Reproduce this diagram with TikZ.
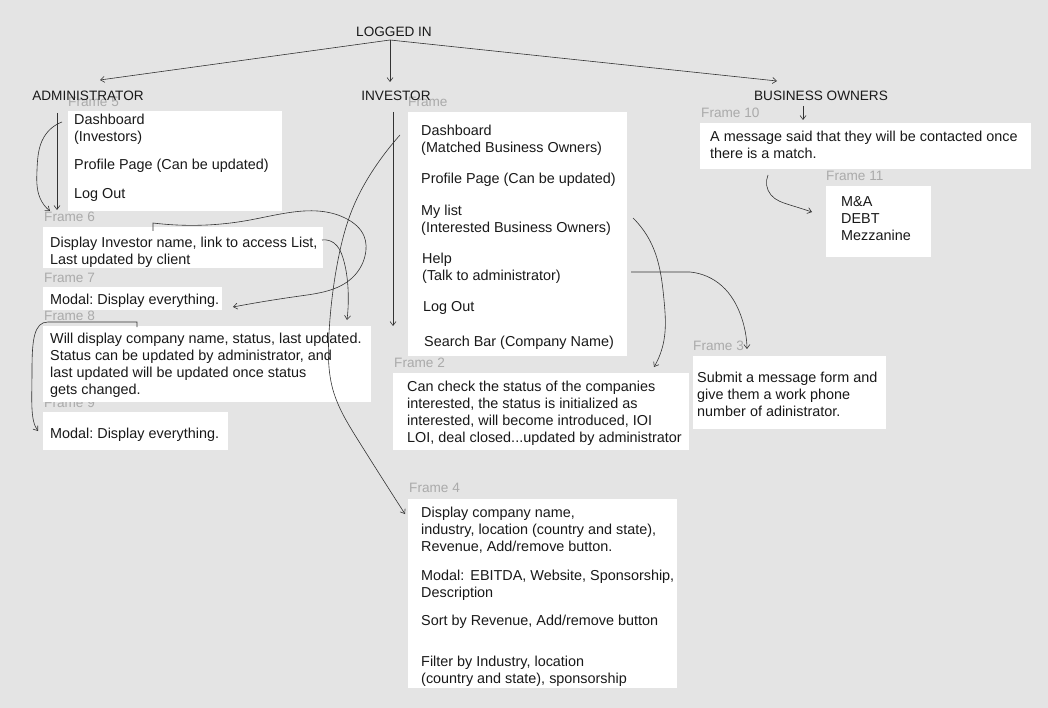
\documentclass[tikz,border=0pt]{standalone}
\usepackage{fontspec}
\setmainfont{Liberation Sans}
\usepackage{tikz}
\usetikzlibrary{calc,arrows.meta,positioning,hobby}
\definecolor{pageGray}{HTML}{E4E4E4}
\definecolor{frameGray}{HTML}{AAAAAA}
\definecolor{inkGray}{HTML}{333333}
\newcommand{\colorTikzBg}{pageGray}
\newcommand{\colorTikzLbl}{frameGray}
\newcommand{\colorTikzInk}{inkGray}
\frenchspacing

\begin{document}
\begin{tikzpicture}[x=1pt, y=-1pt,
    framebox/.style={fill=white, draw=none, anchor=north west, inner sep=0pt},
    bodytxt/.style={anchor=north west, inner sep=0pt, align=left, text=black!90,
      font=\fontsize{14.4}{17}\selectfont, execute at begin node=\strut},
    framelbl/.style={anchor=west, inner sep=0pt, text=\colorTikzLbl, font=\fontsize{13.6}{15}\selectfont},
    headtxt/.style={inner sep=0pt, text=black!90, font=\fontsize{13.6}{15}\selectfont},
    link/.style={draw=\colorTikzInk, line width=0.6pt, -{Straight Barb[length=4pt, width=6pt]}}]

        \fill[\colorTikzBg] (0, 0) rectangle (1048, 708);
        \useasboundingbox (0, 0) rectangle (1048, 708);

        \node[framelbl] (f5lbl) at (68, 102) {Frame 5};
        \node[framelbl] (f6lbl) at (44, 217) {Frame 6};
        \node[framelbl] (f7lbl) at (44, 278) {Frame 7};
        \node[framelbl] (f8lbl) at (44, 316) {Frame 8};
        \node[framelbl] (f9lbl) at (44, 403) {Frame 9};
        \node[framelbl] (finvlbl) at (408, 102) {Frame};
        \node[framelbl] (f2lbl) at (394, 363) {Frame 2};
        \node[framelbl] (f3lbl) at (693, 346) {Frame 3};
        \node[framelbl] (f10lbl) at (701, 113) {Frame 10};
        \node[framelbl] (f11lbl) at (826, 176) {Frame 11};
        \node[framelbl] (f4lbl) at (409, 488) {Frame 4};

        \node[headtxt] (logged) at (394, 32) {LOGGED IN};
        \node[headtxt] (adm) at (88, 96) {ADMINISTRATOR};
        \node[headtxt] (inv) at (396, 96) {INVESTOR};
        \node[headtxt] (bo) at (821, 96) {BUSINESS OWNERS};

        \node[framebox, minimum width=214, minimum height=100] (f5box) at (68, 111) {};
        \node[framebox, minimum width=280, minimum height=41] (f6box) at (43, 227) {};
        \node[framebox, minimum width=179, minimum height=23] (f7box) at (43, 287) {};
        \node[framebox, minimum width=328, minimum height=76] (f8box) at (43, 326) {};
        \node[framebox, minimum width=185, minimum height=38] (f9box) at (43, 412) {};
        \node[framebox, minimum width=219, minimum height=244] (finvbox) at (408, 112) {};
        \node[framebox, minimum width=296, minimum height=77] (f2box) at (393, 373) {};
        \node[framebox, minimum width=193, minimum height=73] (f3box) at (693, 356) {};
        \node[framebox, minimum width=331, minimum height=46] (f10box) at (700, 123) {};
        \node[framebox, minimum width=105, minimum height=71] (f11box) at (826, 186) {};
        \node[framebox, minimum width=269, minimum height=189] (f4box) at (408, 499) {};

        \node[bodytxt] (f5txt) at (74, 114) {Dashboard\\(Investors)\\[11pt]Profile Page (Can be updated)\\[12pt]Log Out};
        \node[bodytxt] (f6txt) at (50, 237) {Display Investor name, link to access List,\\Last updated by client};
        \node[bodytxt] (f7txt) at (50, 292) {Modal: Display everything.};
        \node[bodytxt] (f8txt) at (50, 333) {Will display company name, status, last updated.\\Status can be updated by administrator, and\\last updated will be updated once status\\gets changed.};
        \node[bodytxt] (f9txt) at (50, 426) {Modal: Display everything.};
        \node[bodytxt] (finvtxt) at (421, 125) {Dashboard\\(Matched Business Owners)\\[14pt]Profile Page (Can be updated)\\[15pt]My list\\(Interested Business Owners)\\[14pt]\hspace*{1pt}Help\\\hspace*{1pt}(Talk to administrator)\\[14pt]\hspace*{2pt}Log Out\\[18pt]\hspace*{3pt}Search Bar (Company Name)};
        \node[bodytxt] (f2txt) at (407, 381) {Can check the status of the companies\\interested, the status is initialized as\\interested, will become introduced, IOI\\LOI, deal closed...updated by administrator};
        \node[bodytxt] (f3txt) at (697, 372) {Submit a message form and\\give them a work phone\\number of adinistrator.};
        \node[bodytxt] (f10txt) at (710, 131) {A message said that they will be contacted once\\there is a match.};
        \node[bodytxt] (f11txt) at (841, 196) {M\&A\\DEBT\\Mezzanine};
        \node[bodytxt] (f4txt) at (421, 507) {Display company name,\\industry, location (country and state),\\Revenue, Add/remove button.\\[12pt]Modal:\hspace{6pt}EBITDA, Website, Sponsorship,\\Description\\[11pt]Sort by Revenue, Add/remove button\\[24pt]Filter by Industry, location\\(country and state), sponsorship};

        \coordinate (split) at (390, 40);
        \coordinate (admIn) at (100, 80);
        \coordinate (invIn) at (390, 82);
        \coordinate (boIn) at (777, 81);
        \draw[link] (split) -- (admIn);
        \draw[link] (split) -- (invIn);
        \draw[link] (split) -- (boIn);

        \coordinate (admTop) at (57, 113);
        \coordinate (admBot) at (57, 210);
        \draw[link] (admTop) -- (admBot);
        \coordinate (dashOut) at (62, 122);
        \coordinate (f6In) at (50, 211);
        \draw[link] (dashOut) to[curve through={(44, 137) (37, 170) (40, 198)}] (f6In);

        \coordinate (f6Out) at (153, 231);
        \coordinate (f6Top) at (153, 223);
        \coordinate (f7In) at (233, 307);
        \draw[link] (f6Out) -- (f6Top) to[curve through={(250, 220) (347, 219) (364, 236) (365, 256) (352, 278) (300, 296)}] (f7In);
        \coordinate (listOut) at (322, 240);
        \coordinate (f8In) at (347, 320);
        \draw[link] (listOut) to[curve through={(334, 243) (343, 258) (348, 288)}] (f8In);

        \coordinate (f8Out) at (137, 327);
        \coordinate (f8Top) at (137, 322);
        \coordinate (f9In) at (38, 431);
        \draw[link] (f8Out) -- (f8Top) -- (48, 322) .. controls (34, 322) and (32, 340) .. (32, 370)
            .. controls (32, 400) and (30, 420) .. (f9In);

        \coordinate (invTop) at (393, 112);
        \coordinate (invBot) at (393, 326);
        \draw[link] (invTop) -- (invBot);
        \coordinate (invDashOut) at (400, 135);
        \coordinate (f4In) at (405, 514);
        \draw[link] (invDashOut) to[curve through={(380, 160) (352, 210) (338, 260) (329, 333) (333, 390) (358, 440)}] (f4In);

        \coordinate (myListOut) at (633, 218);
        \coordinate (f2In) at (654, 367);
        \draw[link] (myListOut) to[curve through={(652, 245) (664, 300) (664, 340)}] (f2In);
        \coordinate (helpOut) at (631, 272);
        \coordinate (helpMid) at (690, 272);
        \coordinate (f3In) at (747, 349);
        \draw[link] (helpOut) -- (helpMid) to[curve through={(722, 286) (741, 316)}] (f3In);

        \coordinate (boTop) at (803, 106);
        \coordinate (f10In) at (803, 120);
        \draw[link] (boTop) -- (f10In);
        \coordinate (f10Out) at (768, 175);
        \coordinate (f11In) at (812, 212);
        \draw[link] (f10Out) to[curve through={(771, 195) (790, 205)}] (f11In);

\end{tikzpicture}
\end{document}
